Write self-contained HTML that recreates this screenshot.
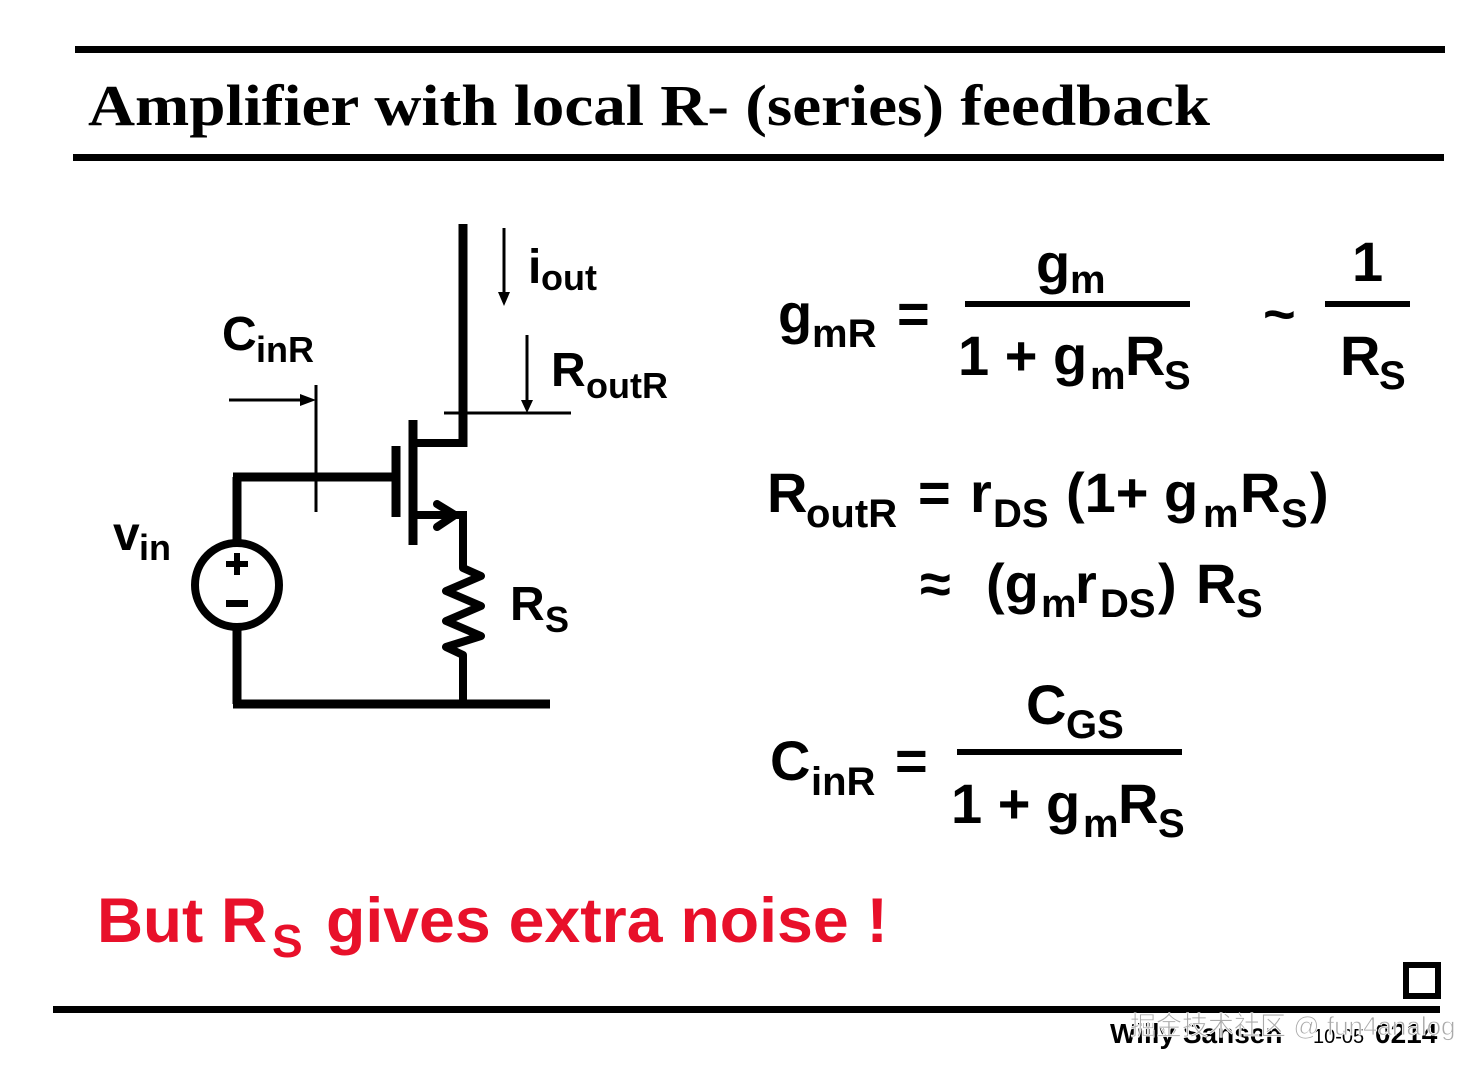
<!DOCTYPE html>
<html><head><meta charset="utf-8"><style>
html,body{margin:0;padding:0;background:#fff;}
svg{display:block;}
text{font-family:"Liberation Sans",Arial,sans-serif;font-weight:bold;fill:#000;}
.s{font-size:40px;}
.m{font-size:56px;}
</style></head><body>
<svg width="1478" height="1068" viewBox="0 0 1478 1068" xmlns="http://www.w3.org/2000/svg">
<rect x="75" y="46" width="1370" height="7" fill="#000"/>
<rect x="73" y="154" width="1371" height="7" fill="#000"/>
<text x="88" y="125" style="font-family:'Liberation Serif',serif;font-size:58px" textLength="1122" lengthAdjust="spacingAndGlyphs">Amplifier with local R- (series) feedback</text>

<!-- circuit -->
<g stroke="#000" fill="none" stroke-linecap="butt">
<line x1="463" y1="224" x2="463" y2="447" stroke-width="9"/>
<line x1="413" y1="443" x2="467" y2="443" stroke-width="8"/>
<line x1="413" y1="420" x2="413" y2="545" stroke-width="9"/>
<line x1="396" y1="446" x2="396" y2="517" stroke-width="9"/>
<line x1="233" y1="477" x2="396" y2="477" stroke-width="9"/>
<line x1="413" y1="515" x2="467" y2="515" stroke-width="8"/>
<polyline points="437,504 455,515 437,527" stroke-width="8" stroke-linecap="round" stroke-linejoin="round"/>
<polyline points="463,511 463,568 481,576 446,591 481,606 446,621 481,636 446,647 463,655 463,704" stroke-width="8" stroke-linejoin="round"/>
<polyline points="237,545 237,477" stroke-width="9"/>
<circle cx="237" cy="585" r="42" stroke-width="8"/>
<polyline points="237,627 237,704" stroke-width="9"/>
<line x1="233" y1="704" x2="550" y2="704" stroke-width="9"/>
<line x1="229" y1="400" x2="305" y2="400" stroke-width="3"/>
<line x1="316" y1="385" x2="316" y2="512" stroke-width="3"/>
<line x1="444" y1="413" x2="571" y2="413" stroke-width="3"/>
<line x1="527" y1="335" x2="527" y2="402" stroke-width="3"/>
<line x1="504" y1="228" x2="504" y2="296" stroke-width="3"/>
</g>
<polygon points="300,394 316,400 300,406" fill="#000"/>
<polygon points="521,400 527,413 533,400" fill="#000"/>
<polygon points="498,292 504,306 510,292" fill="#000"/>
<rect x="226" y="561" width="22" height="6" fill="#000"/>
<rect x="234" y="553" width="6" height="22" fill="#000"/>
<rect x="226" y="600" width="22" height="7" fill="#000"/>

<text x="222" y="350" style="font-size:48px">C</text><text x="256" y="362" style="font-size:36px">inR</text>
<text x="113" y="550" style="font-size:48px">v</text><text x="139" y="560" style="font-size:36px">in</text>
<text x="528" y="283" style="font-size:48px">i</text><text x="541" y="290" style="font-size:36px">out</text>
<text x="551" y="386" style="font-size:48px">R</text><text x="586" y="398" style="font-size:36px">outR</text>
<text x="510" y="620" style="font-size:48px">R</text><text x="545" y="632" style="font-size:36px">S</text>

<!-- equations -->
<text class="m" x="778" y="333">g</text><text class="s" x="812" y="347">mR</text>
<text class="m" x="897" y="333">=</text>
<text class="m" x="1036" y="283">g</text><text class="s" x="1070" y="293">m</text>
<rect x="965" y="301" width="225" height="6" fill="#000"/>
<text class="m" x="958" y="375">1 + g</text><text class="s" x="1090" y="389">m</text><text class="m" x="1125" y="375">R</text><text class="s" x="1164" y="389">S</text>
<text class="m" x="1263" y="333">~</text>
<text class="m" x="1352" y="281">1</text>
<rect x="1325" y="301" width="85" height="6" fill="#000"/>
<text class="m" x="1340" y="375">R</text><text class="s" x="1379" y="389">S</text>

<text class="m" x="767" y="512">R</text><text class="s" x="806" y="527">outR</text>
<text class="m" x="918" y="512">=</text>
<text class="m" x="970" y="512">r</text><text class="s" x="993" y="527">DS</text>
<text class="m" x="1066" y="512">(1+ g</text><text class="s" x="1203" y="527">m</text>
<text class="m" x="1240" y="512">R</text><text class="s" x="1281" y="527">S</text><text class="m" x="1310" y="512">)</text>

<text class="m" x="920" y="603">≈</text>
<text class="m" x="986" y="603">(g</text><text class="s" x="1041" y="617">m</text>
<text class="m" x="1075" y="603">r</text><text class="s" x="1100" y="617">DS</text>
<text class="m" x="1158" y="603">)</text><text class="m" x="1196" y="603">R</text><text class="s" x="1236" y="617">S</text>

<text class="m" x="770" y="780">C</text><text class="s" x="811" y="795">inR</text>
<text class="m" x="895" y="780">=</text>
<text class="m" x="1026" y="724">C</text><text class="s" x="1066" y="738">GS</text>
<rect x="957" y="749" width="225" height="6" fill="#000"/>
<text class="m" x="951" y="823">1 + g</text><text class="s" x="1083" y="837">m</text><text class="m" x="1118" y="823">R</text><text class="s" x="1158" y="837">S</text>

<text x="97" y="942" style="font-size:63px;fill:#e8102a" textLength="170" lengthAdjust="spacingAndGlyphs">But R</text>
<text x="272" y="957" style="font-size:46px;fill:#e8102a">S</text>
<text x="326" y="942" style="font-size:63px;fill:#e8102a" textLength="562" lengthAdjust="spacingAndGlyphs">gives extra noise !</text>

<rect x="1406" y="965" width="32" height="31" fill="none" stroke="#000" stroke-width="6"/>
<rect x="53" y="1006" width="1387" height="7" fill="#000"/>
<text x="1110" y="1043" style="font-size:28px">Willy Sansen</text>
<text x="1313" y="1043" style="font-size:20px;font-weight:normal">10-05</text>
<text x="1375" y="1043" style="font-size:28px">0214</text>
<text x="1130" y="1035" style="font-family:'Liberation Sans','Noto Sans CJK SC',sans-serif;font-size:26px;font-weight:normal;fill:#aaa;stroke:#fff;stroke-width:0.8">掘金技术社区 @ fun4analog</text>
</svg>
</body></html>
